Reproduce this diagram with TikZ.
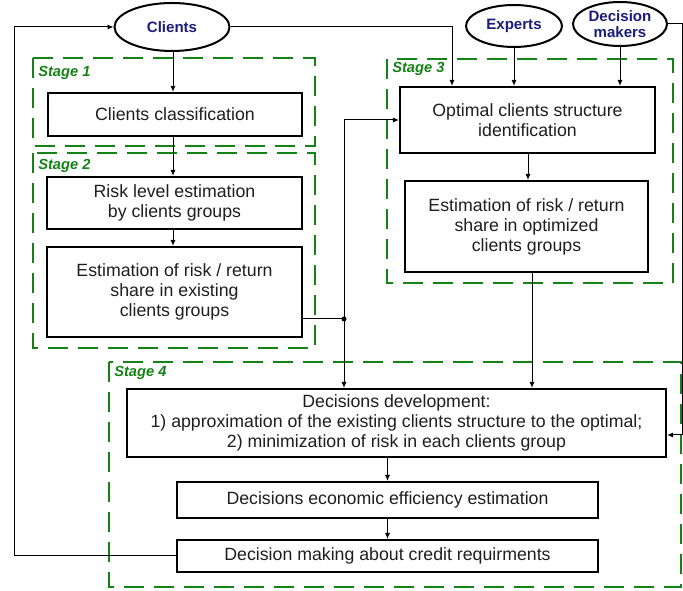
\documentclass[tikz,border=0pt]{standalone}
\usepackage{fontspec}
\setmainfont{Liberation Sans}
\usetikzlibrary{arrows.meta,shapes.geometric}
\definecolor{stgreen}{RGB}{20,130,20}
\definecolor{navytxt}{RGB}{28,28,125}
\definecolor{boxtxt}{RGB}{30,30,30}
\begin{document}
\begin{tikzpicture}[x=0.75pt,y=-0.75pt,
  box/.style={draw=black,line width=1.6pt,rectangle,align=center,text=boxtxt,
    font=\fontsize{13.3}{15}\selectfont,inner sep=0pt},
  ell/.style={draw=black,line width=1.5pt,ellipse,align=center,text=navytxt,
    font=\fontsize{11.3}{12}\selectfont\bfseries,inner sep=0pt},
  stage/.style={draw=stgreen,line width=2.2pt,dash pattern=on 15pt off 7.5pt},
  stlabel/.style={text=stgreen,font=\fontsize{11}{13}\selectfont\bfseries\itshape,anchor=west,inner sep=0pt},
  arr/.style={draw=black,line width=0.75pt,-{Latex[length=4.5pt,width=3.8pt]}},
  ln/.style={draw=black,line width=0.75pt}]
\useasboundingbox (0,0) rectangle (683,591);
% stage frames
\draw[stage] (33,58) rectangle (315,146);
\draw[stage] (33,153) rectangle (315,348);
\draw[stage] (387,59) rectangle (673,283);
\draw[stage] (109,362) rectangle (681,587);
\node[stlabel] (s1) at (38,73) {Stage 1};
\node[stlabel] (s2) at (38,166) {Stage 2};
\node[stlabel] (s3) at (392,69) {Stage 3};
\node[stlabel] (s4) at (114,373) {Stage 4};
% ellipses
\node[ell,minimum width=86.25pt,minimum height=36pt] (cl) at (172,27) {Clients};
\node[ell,minimum width=72pt,minimum height=31.5pt] (ex) at (514,26) {Experts};
\node[ell,minimum width=70.5pt,minimum height=33pt] (dmk) at (620,24) {Decision\\makers};
% boxes
\node[box,minimum width=190.5pt,minimum height=32.25pt] (cc) at (175,114.5) {Clients classification};
\node[box,minimum width=191.25pt,minimum height=39pt] (rl) at (174.5,203) {Risk level estimation\\by clients groups};
\node[box,minimum width=191.25pt,minimum height=67.5pt] (ee) at (174.5,292) {Estimation of risk / return\\share in existing\\clients groups};
\node[box,minimum width=191.25pt,minimum height=49.5pt] (oc) at (527.5,120) {Optimal clients structure\\identification};
\node[box,minimum width=182.25pt,minimum height=68.25pt] (eo) at (526.5,226.5) {Estimation of risk / return\\share in optimized\\clients groups};
\node[box,minimum width=404.25pt,minimum height=51pt] (dd) at (396.5,423) {Decisions development:\\1) approximation of the existing clients structure to the optimal;\\2) minimization of risk in each clients group};
\node[box,minimum width=315.75pt,minimum height=27pt] (de) at (387.5,500) {Decisions economic efficiency estimation};
\node[box,minimum width=315.75pt,minimum height=24pt] (dm) at (387.5,556) {Decision making about credit requirments};
% helper coordinates
\coordinate (j) at (344,319);
\coordinate (c1) at (452,0);
\coordinate (rr) at (682,435);
\coordinate (ll) at (14,0);
\coordinate (c2) at (532,0);
% connectors
\draw[arr] (cl.south -| 173,0) -- (cc.north -| 173,0);
\draw[arr] (cc.south -| 173,0) -- (rl.north -| 173,0);
\draw[arr] (rl.south -| 173,0) -- (ee.north -| 173,0);
\draw[ln] (j -| ee.east) -- (j);
\fill (j) circle (2.5);
\draw[arr] (j) |- (oc.west);
\draw[arr] (j) -- (j |- dd.north);
\draw[arr] (cl.east) -| (c1 |- oc.north);
\draw[arr] (ex.south) -- (ex.south |- oc.north);
\draw[arr] (dmk.south) -- (dmk.south |- oc.north);
\draw[arr] (dmk.east) -| (rr) -- (rr -| dd.east);
\draw[arr] (oc.south -| 528,0) -- (eo.north -| 528,0);
\draw[arr] (c2 |- eo.south) -- (c2 |- dd.north);
\draw[arr] (de.north |- dd.south) -- (de.north);
\draw[arr] (de.south) -- (dm.north);
\draw[arr] (dm.west) -| (ll |- cl.west) -- (cl.west);
\end{tikzpicture}
\end{document}
